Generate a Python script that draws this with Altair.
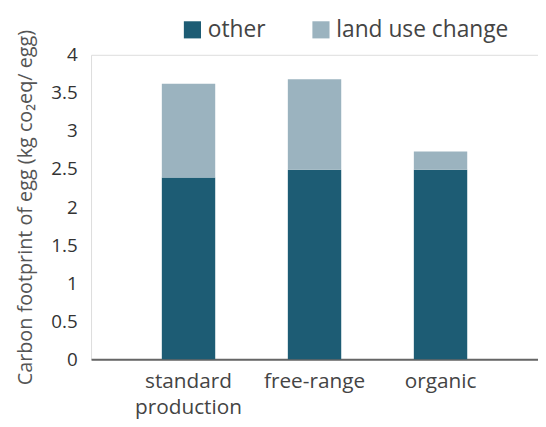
import altair as alt
import pandas as pd

categories = ["standard production", "free-range", "organic"]
other = [2.39, 2.49, 2.49]
land_use_change = [1.23, 1.19, 0.24]
series = ["other", "land use change"]

rows = []
for c, o, l in zip(categories, other, land_use_change):
    rows.append({"system": c, "source": "other", "value": o, "ord": 0})
    rows.append({"system": c, "source": "land use change", "value": l, "ord": 1})
df = pd.DataFrame(rows)

FONT = "Open Sans"

chart = alt.Chart(df).mark_bar(size=54).encode(
    x=alt.X("system:N", sort=categories, title=None,
            scale=alt.Scale(paddingInner=0.578, paddingOuter=0.5625),
            axis=alt.Axis(labelAngle=0, labelFontSize=21, labelColor="#444",
                          labelFont=FONT, domainColor="#666", domainWidth=2,
                          ticks=False, labelPadding=11, labelLineHeight=27,
                          labelExpr="datum.value == 'standard production' ? ['standard', 'production'] : datum.value")),
    y=alt.Y("value:Q", stack="zero", title="Carbon footprint of egg (kg co₂eq/ egg)",
            scale=alt.Scale(domain=[0, 4]),
            axis=alt.Axis(values=[0, 0.5, 1, 1.5, 2, 2.5, 3, 3.5, 4], grid=False,
                          domain=False, ticks=False, labelFontSize=19, format="~g",
                          labelColor="#333", labelFont=FONT, labelPadding=14,
                          titleFont=FONT, titleFontSize=20, titleColor="#555",
                          titleFontWeight="normal", titlePadding=16)),
    color=alt.Color("source:N", sort=series,
                    scale=alt.Scale(domain=series, range=["#1d5c74", "#9bb3bf"]),
                    legend=alt.Legend(title=None, orient="none", direction="horizontal",
                                      legendX=91, legendY=-37, symbolType="square",
                                      symbolSize=300, symbolStrokeWidth=0,
                                      labelFontSize=23, labelFont=FONT, labelColor="#444",
                                      labelLimit=400, columnPadding=44, symbolOffset=0)),
    order=alt.Order("ord:Q"),
).properties(
    width=452, height=308,
    autosize=alt.AutoSizeParams(type="none"),
    padding={"left": 84, "top": 45, "right": 0, "bottom": 60},
).configure_view(stroke=None).configure(font=FONT)

chart.save("out.html", embed_options={"renderer": "svg", "actions": False})
